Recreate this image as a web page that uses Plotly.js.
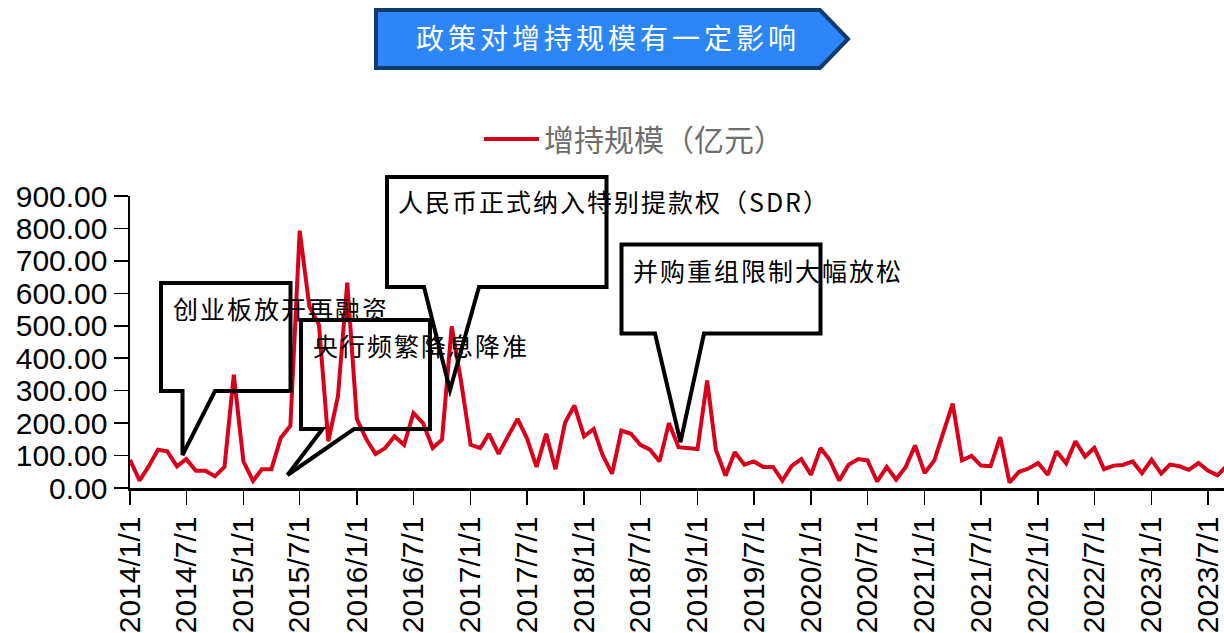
<!DOCTYPE html>
<html>
<head>
<meta charset="utf-8">
<script src="https://cdn.plot.ly/plotly-3.0.1.min.js"></script>
<style>
html,body{margin:0;padding:0;background:#fff;}
#chart{width:1224px;height:633px;}
.gtitle{letter-spacing:4px;}
.annotation-text{letter-spacing:2px;}
</style>
</head>
<body>
<div id="chart"></div>
<script>
// ---- data ----
const startYear = 2014;
const seriesName = '增持规模（亿元）';
// monthly values, 2014/1 .. 2023/9 (亿元)
const values2014 = [87, 23, 65, 118, 113, 67, 89, 53, 53, 36, 65, 349];
const values2015 = [82, 22, 58, 58, 154, 192, 793, 560, 503, 144, 282, 633];
const values2016 = [212, 149, 105, 123, 159, 133, 231, 200, 123, 149, 498, 330];
const values2017 = [133, 123, 167, 105, 159, 213, 154, 65, 167, 58, 202, 254];
const values2018 = [159, 182, 103, 44, 177, 167, 133, 118, 82, 200, 126, 123];
const values2019 = [120, 331, 118, 38, 110, 72, 82, 65, 65, 23, 69, 89];
const values2020 = [41, 123, 87, 23, 72, 89, 85, 20, 65, 26, 65, 131];
const values2021 = [46, 85, 169, 260, 85, 99, 69, 67, 157, 17, 50, 60];
const values2022 = [77, 41, 113, 76, 144, 97, 124, 58, 69, 71, 82, 46];
const values2023 = [87, 44, 72, 67, 56, 77, 54, 39, 70];

const yearly = [values2014, values2015, values2016, values2017, values2018,
                values2019, values2020, values2021, values2022, values2023];

const months = [];
const values = [];
yearly.forEach((arr, k) => {
  arr.forEach((v, m) => {
    const mm = String(m + 1).padStart(2, '0');
    months.push((startYear + k) + '-' + mm + '-01');
    values.push(v);
  });
});

const calloutTexts = ['创业板放开再融资', '央行频繁降息降准', '人民币正式纳入特别提款权（SDR）', '并购重组限制大幅放松'];
const titleText = '政策对增持规模有一定影响';

// ---- layout helpers (pixel -> paper) ----
const PL = 130, PR = 1224, PT = 196, PB = 488;
const px = x => (x - PL) / (PR - PL);
const py = y => (PB - y) / (PB - PT);
function pathFrom(points) {
  return 'M' + points.map(p => px(p[0]).toFixed(5) + ',' + py(p[1]).toFixed(5)).join(' L') + ' Z';
}

const calloutPaths = [
  [[161,283],[290.5,283],[290.5,391],[215,391],[182.5,455],[182.5,391],[161,391]],
  [[301,320],[430,320],[430,429],[354,429],[287.5,475],[322.5,429],[301,429]],
  [[387,177],[606.5,177],[606.5,287],[479,287],[450,390],[424,287],[387,287]],
  [[621.5,244.5],[820.5,244.5],[820.5,333.5],[704,333.5],[680.5,442],[655,333.5],[621.5,333.5]]
];
const calloutTextPos = [[171,308],[311,345],[396,201],[631,270]];

const shapes = [];
// title banner
shapes.push({
  type: 'path', xref: 'paper', yref: 'paper', layer: 'above',
  path: pathFrom([[376,10],[820,10],[848,39],[820,68],[376,68]]),
  fillcolor: '#2C86F8', line: {color: '#0E3A6E', width: 4}
});
calloutPaths.forEach(p => shapes.push({
  type: 'path', xref: 'paper', yref: 'paper', layer: 'above',
  path: pathFrom(p), fillcolor: 'rgba(0,0,0,0)', line: {color: '#000', width: 4}
}));

const annotations = calloutTexts.map((t, i) => ({
  text: t, xref: 'paper', yref: 'paper', showarrow: false,
  x: px(calloutTextPos[i][0]), y: py(calloutTextPos[i][1]),
  xanchor: 'left', yanchor: 'middle', align: 'left',
  font: {family: 'Noto Sans CJK SC', size: 25, color: '#000'}
}));

const trace = {
  x: months, y: values, type: 'scatter', mode: 'lines', name: seriesName,
  line: {color: '#D9001B', width: 4}, hoverinfo: 'skip'
};

const tickFont = {family: 'Liberation Sans, Arial, sans-serif', size: 30, color: '#000'};

const layout = {
  width: 1224, height: 633,
  margin: {l: PL, r: 1224 - PR, t: PT, b: 633 - PB, pad: 0},
  paper_bgcolor: '#fff', plot_bgcolor: '#fff',
  title: {
    text: titleText, xref: 'container', yref: 'container',
    x: 608 / 1224, y: 1 - 39 / 633, xanchor: 'center', yanchor: 'middle',
    font: {family: 'Noto Sans CJK SC', size: 28, color: '#fff'}
  },
  showlegend: true,
  legend: {
    orientation: 'h', xref: 'container', yref: 'container',
    x: 479 / 1224, y: 1 - 139 / 633, xanchor: 'left', yanchor: 'middle',
    font: {family: 'Noto Sans CJK SC', size: 30, color: '#6e6e6e'},
    bgcolor: 'rgba(0,0,0,0)', itemwidth: 55
  },
  xaxis: {
    type: 'date', range: ['2014-01-01', '2023-08-22'],
    tick0: '2014-01-01', dtick: 'M6', tickformat: '%Y/%-m/%-d',
    tickangle: -90, ticks: 'outside', ticklen: 14, tickwidth: 1.5, tickcolor: '#000',
    showline: true, linecolor: '#000', linewidth: 2.5,
    showgrid: false, zeroline: false, tickfont: tickFont, fixedrange: true
  },
  yaxis: {
    range: [0, 900], tick0: 0, dtick: 100, tickformat: '.2f',
    ticks: 'outside', ticklen: 14, tickwidth: 1.5, tickcolor: '#000',
    showline: true, linecolor: '#000', linewidth: 2.5,
    showgrid: false, zeroline: false, tickfont: tickFont, fixedrange: true
  },
  shapes: shapes,
  annotations: annotations
};

Plotly.newPlot('chart', [trace], layout, {displayModeBar: false, staticPlot: true});
</script>
</body>
</html>
